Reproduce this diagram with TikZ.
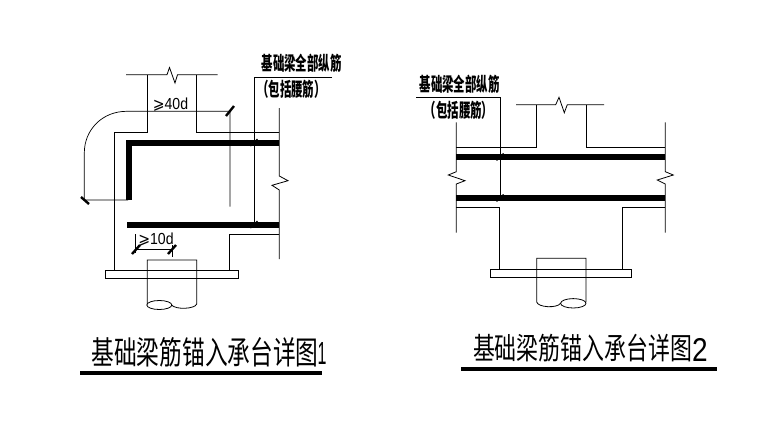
\documentclass[tikz,border=0pt]{standalone}
\usepackage{fontspec}
\setmainfont{Liberation Sans}
\newfontfamily\cjk{Noto Sans CJK SC}
\newfontfamily\symb{DejaVu Sans}

\tikzset{
  wall/.style = {draw = black, line width = 0.8pt},
  rebar/.style = {draw = black, line width = 5.6pt},
  dimline/.style = {draw = black, line width = 0.7pt},
  dimtick/.style = {draw = black, line width = 2.4pt},
  labeltext/.style = {inner sep = 0pt, xscale = 0.6, font = \cjk\bfseries\fontsize{19}{21}\selectfont},
  titletext/.style = {inner sep = 0pt, font = \cjk},
  dimtext/.style = {inner sep = 0pt, xscale = 0.88, font = \fontsize{16}{18}\selectfont}
}

\begin{document}
\begin{tikzpicture}[x = 1pt, y = -1pt]
    \useasboundingbox (0, 0) rectangle (773, 426);

    % detail 1
    \draw[wall] (126, 74.7) -- (167, 74.7) -- (169.5, 67.5) -- (175, 83) -- (177.5, 74.7) -- (217.7, 74.7);
    \draw[wall] (147.3, 74.7) -- (147.3, 132.7) -- (114.3, 132.7) -- (114.3, 270);
    \draw[wall] (196.7, 74.7) -- (196.7, 132.7) -- (279.3, 132.7);
    \draw[wall] (279.3, 108) -- (279.3, 176) -- (288, 180.7) -- (272, 185.3) -- (279.3, 190) -- (279.3, 259);
    \draw[wall] (279.3, 234.7) -- (229.3, 234.7) -- (229.3, 270);
    \draw[wall] (105.7, 270) rectangle (238, 278);
    \draw[wall] (147.3, 304) -- (147.3, 260) -- (196.7, 260) -- (196.7, 304) .. controls (195, 309) and (176, 310) .. (171.5, 305);
    \draw[wall] (159.3, 305) ellipse [x radius = 12.5, y radius = 4.5];

    \draw[rebar, line cap = butt] (279.3, 143) -- (128.7, 143) -- (128.7, 200);
    \draw[rebar] (127.3, 224.7) -- (279.3, 224.7);

    \draw[dimline] (128, 200) -- (84.3, 200) -- (84.3, 153) .. controls (84.3, 130) and (102, 111.3) .. (126.7, 111.3) -- (230, 111.3) -- (230, 206.7);
    \draw[dimtick] (226, 116) -- (234, 106);
    \draw[dimtick] (81, 197) -- (89, 204);
    \draw[dimline] (135.7, 234) -- (135.7, 253);
    \draw[dimline] (135.7, 249.7) -- (172, 249.7);
    \draw[dimline] (172, 245) -- (172, 257);
    \draw[dimtick] (132, 254) -- (140, 245);
    \draw[dimtick] (168, 254) -- (176, 245);

    \draw[dimline] (332, 77.3) -- (254, 77.3) -- (254, 224.7);
    \draw[dimtick, line width = 1.2pt] (250.5, 146) -- (257.5, 139);
    \draw[dimtick, line width = 1.2pt] (250.5, 228) -- (257.5, 221);

    \node[dimtext] (geFortyOne) at (170.5, 105) {{\symb ⩾}40d};
    \node[dimtext] (geTenOne) at (156, 240) {{\symb ⩾}10d};
    \node[labeltext] (barOne) at (301.5, 63.5) {基础梁全部纵筋};
    \node[labeltext] (waistOne) at (291.5, 89.5) {（包括腰筋）};

    % detail 2
    \draw[wall] (516, 104.7) -- (555.7, 104.7) -- (559, 97.3) -- (564.3, 112.7) -- (567.3, 104.7) -- (604, 104.7);
    \draw[wall] (536.7, 104.7) -- (536.7, 147.3) -- (456.3, 147.3);
    \draw[wall] (586, 104.7) -- (586, 147.3) -- (665.3, 147.3);
    \draw[wall] (456.3, 122.3) -- (456.3, 171.7) -- (448.3, 175) -- (465, 180.7) -- (456.3, 184) -- (456.3, 232.7);
    \draw[wall] (665.3, 122.3) -- (665.3, 171.7) -- (673.3, 175) -- (657.3, 180) -- (665.3, 184) -- (665.3, 232.7);
    \draw[wall] (456.3, 207.7) -- (499, 207.7) -- (499, 269);
    \draw[wall] (665.3, 207.7) -- (622.7, 207.7) -- (622.7, 269);
    \draw[wall] (490.3, 269) rectangle (631.3, 277.7);
    \draw[wall] (586, 302) -- (586, 258.3) -- (536.7, 258.3) -- (536.7, 302) .. controls (538, 307.5) and (557, 308.5) .. (560.6, 303.3);
    \draw[wall] (573.3, 303.3) ellipse [x radius = 12.7, y radius = 4.7];

    \draw[rebar, line width = 6pt] (456.3, 157) -- (665.3, 157);
    \draw[rebar, line width = 6pt] (456.3, 198) -- (665.3, 198);

    \draw[dimline] (416, 97.7) -- (500, 97.7) -- (500, 198);
    \draw[dimtick, line width = 1.2pt] (496.5, 160.5) -- (503.5, 153.5);
    \draw[dimtick, line width = 1.2pt] (496.5, 201.5) -- (503.5, 194.5);

    \node[labeltext] (barTwo) at (459.5, 84) {基础梁全部纵筋};
    \node[labeltext] (waistTwo) at (459, 110) {（包括腰筋）};

    % titles
    \node[titletext, xscale = 0.71, font = \cjk\fontsize{32}{34}\selectfont] (titleOne) at (205, 352) {基础梁筋锚入承台详图};
    \node[titletext, xscale = 0.73, font = \cjk\fontsize{30}{32}\selectfont] (titleTwo) at (582.5, 348.5) {基础梁筋锚入承台详图};
    \node[inner sep = 0pt, xscale = 0.5, font = \fontsize{32}{34}\selectfont] (numOne) at (322, 353) {1};
    \node[inner sep = 0pt, xscale = 0.85, font = \fontsize{33}{35}\selectfont] (numTwo) at (700, 350) {2};
    \draw[draw = black, line width = 3.6pt] (80, 373) -- (322, 373);
    \draw[draw = black, line width = 3.6pt] (461, 369) -- (717, 369);
  \end{tikzpicture}
\end{document}
